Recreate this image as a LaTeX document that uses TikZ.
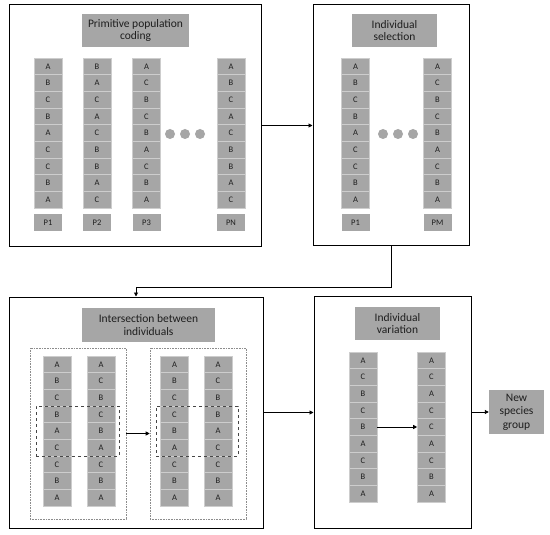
\documentclass[tikz,border=0pt]{standalone}
\usepackage{fontspec}
\setmainfont{Carlito}
\usepackage{tikz}
\usetikzlibrary{arrows.meta, positioning, calc}
\definecolor{mygray}{RGB}{166,166,166}
\definecolor{mysep}{RGB}{205,205,205}
\definecolor{mydark}{RGB}{30,30,30}
\definecolor{mydot}{RGB}{140,140,140}
\definecolor{mydash}{RGB}{70,70,70}
\tikzset{
  panel/.style={rectangle, draw=black, fill=white, line width=1pt, inner sep=0pt},
  title/.style={rectangle, fill=mygray, text=mydark, align=center, inner sep=0pt,
    font=\fontsize{11.5}{12.5}\selectfont},
  cell/.style={rectangle, fill=mygray, draw=mysep, line width=0.6pt, text=mydark,
    minimum width=28pt, minimum height=16.67pt, inner sep=0pt,
    font=\fontsize{8.5}{9}\selectfont},
  tag/.style={rectangle, fill=mygray, text=mydark, minimum width=28pt,
    minimum height=17pt, inner sep=0pt, font=\fontsize{8.5}{9}\selectfont},
  group/.style={rectangle, draw=mydot, densely dotted, line width=0.6pt, inner sep=0pt},
  swap/.style={rectangle, draw=mydash, dashed, line width=1pt, inner sep=0pt},
  blob/.style={circle, fill=mygray, minimum size=10pt, inner sep=0pt},
  arrow/.style={-{Triangle[length=4pt,width=4pt]}, line width=0.9pt, color=black}
}

\begin{document}
\begin{tikzpicture}[x=1pt, y=-1pt]
  \useasboundingbox (0,0) rectangle (550,535);

  % Panels
  \node[panel, minimum width=252pt, minimum height=241pt] (coding) at (135,125.5) {};
  \node[panel, minimum width=156pt, minimum height=240pt] (select) at (391,125) {};
  \node[panel, minimum width=254pt, minimum height=231pt] (cross) at (136,412.5) {};
  \node[panel, minimum width=157pt, minimum height=232pt] (mutate) at (392.5,412) {};

  % Titles
  \node[title, minimum width=107pt, minimum height=33pt] (tcoding) at (135.5,30.5) {Primitive population\\coding};
  \node[title, minimum width=85pt, minimum height=33pt] (tselect) at (394.5,30.5) {Individual\\selection};
  \node[title, minimum width=133pt, minimum height=34pt] (tcross) at (148.5,325) {Intersection between\\individuals};
  \node[title, minimum width=85pt, minimum height=33pt] (tmutate) at (397.5,323.5) {Individual\\variation};
  \node[title, minimum width=55pt, minimum height=44pt, font=\fontsize{11.5}{13.3}\selectfont] (newgroup) at (516.5,412) {New\\species\\group};

  % Primitive population
  \foreach \l [count=\i] in {A,B,C,B,A,C,C,B,A}
    \node[cell] (pa\i) at (48, {58+16.67*(\i-0.5)}) {\l};
  \foreach \l [count=\i] in {B,A,C,A,C,B,B,A,C}
    \node[cell] (pb\i) at (97, {58+16.67*(\i-0.5)}) {\l};
  \foreach \l [count=\i] in {A,C,B,C,B,A,C,B,A}
    \node[cell] (pc\i) at (146.5, {58+16.67*(\i-0.5)}) {\l};
  \foreach \l [count=\i] in {A,B,C,A,C,B,B,A,C}
    \node[cell] (pn\i) at (231, {58+16.67*(\i-0.5)}) {\l};
  \node[tag] (lpa) at (48,222.5) {P1};
  \node[tag] (lpb) at (97,222.5) {P2};
  \node[tag] (lpc) at (146.5,222.5) {P3};
  \node[tag] (lpn) at (231,222.5) {PN};
  \foreach \x [count=\i] in {170,185,200}
    \node[blob] (dp\i) at (\x,134) {};

  % Selected individuals
  \foreach \l [count=\i] in {A,B,C,B,A,C,C,B,A}
    \node[cell] (sa\i) at (355.5, {58+16.67*(\i-0.5)}) {\l};
  \foreach \l [count=\i] in {A,C,B,C,B,A,C,B,A}
    \node[cell] (sm\i) at (437.5, {58+16.67*(\i-0.5)}) {\l};
  \node[tag] (lsa) at (355.5,222.5) {P1};
  \node[tag] (lsm) at (437.5,222.5) {PM};
  \foreach \x [count=\i] in {383,398,413}
    \node[blob] (ds\i) at (\x,134) {};

  % Crossover
  \node[group, minimum width=96pt, minimum height=171pt] (before) at (78,433.5) {};
  \node[group, minimum width=96pt, minimum height=171pt] (after) at (198,433.5) {};
  \foreach \l [count=\i] in {A,B,C,B,A,C,C,B,A}
    \node[cell] (xa\i) at (57, {356+16.67*(\i-0.5)}) {\l};
  \foreach \l [count=\i] in {A,C,B,C,B,A,C,B,A}
    \node[cell] (xb\i) at (101, {356+16.67*(\i-0.5)}) {\l};
  \foreach \l [count=\i] in {A,B,C,C,B,A,C,B,A}
    \node[cell] (ya\i) at (174.5, {356+16.67*(\i-0.5)}) {\l};
  \foreach \l [count=\i] in {A,C,B,B,A,C,C,B,A}
    \node[cell] (yb\i) at (218, {356+16.67*(\i-0.5)}) {\l};
  \node[swap, minimum width=83pt, minimum height=50pt] (swapa) at (77.5,431) {};
  \node[swap, minimum width=82pt, minimum height=50pt] (swapb) at (197,431) {};

  % Mutation
  \foreach \l [count=\i] in {A,C,B,C,B,A,C,B,A}
    \node[cell] (va\i) at (363, {352+16.67*(\i-0.5)}) {\l};
  \foreach \l [count=\i] in {A,C,A,C,C,A,C,B,A}
    \node[cell] (vb\i) at (431.5, {352+16.67*(\i-0.5)}) {\l};

  % Connections
  \draw[arrow] (coding.east) -- (coding.east -| select.west);
  \draw[arrow] (select.south) -- ++(0,42) -| (cross.north);
  \draw[arrow] (before.east) -- (after.west);
  \draw[arrow] (cross.east) -- (cross.east -| mutate.west);
  \draw[arrow] (va5.east) -- (vb5.west);
  \draw[arrow] (mutate.east) -- (newgroup.west);
\end{tikzpicture}
\end{document}
